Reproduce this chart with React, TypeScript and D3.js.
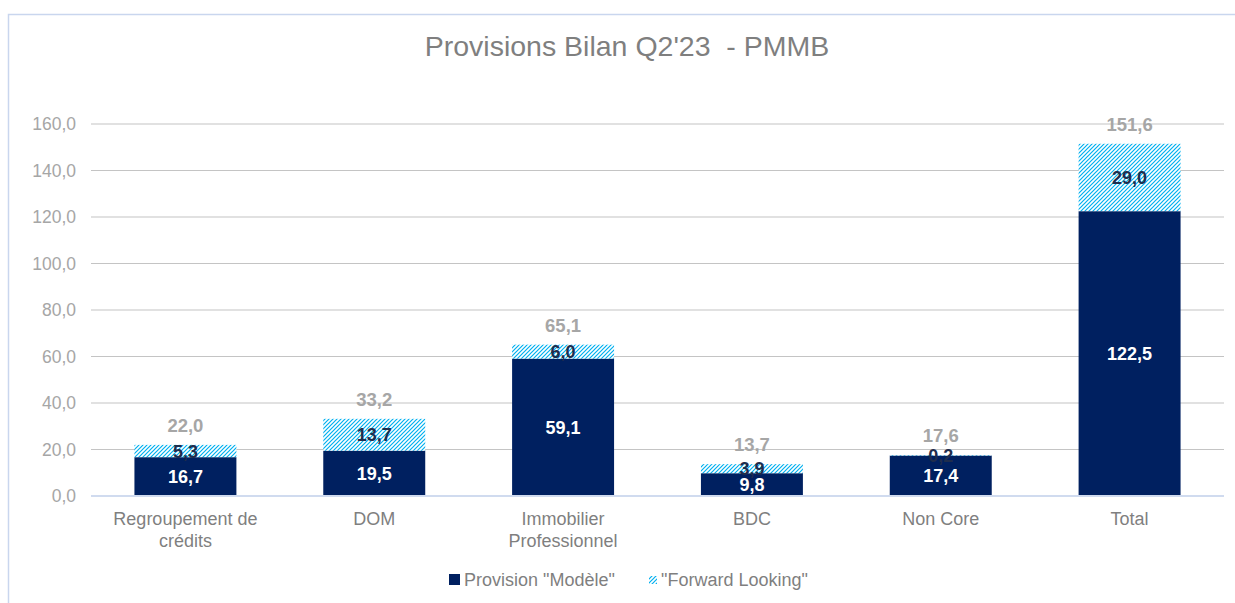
import * as d3 from 'd3';
import * as React from 'react';

const categories = ['Regroupement de crédits', 'DOM', 'Immobilier Professionnel', 'BDC', 'Non Core', 'Total'];
const categoryLines = [['Regroupement de', 'crédits'], ['DOM'], ['Immobilier', 'Professionnel'], ['BDC'], ['Non Core'], ['Total']];
const modele = [16.7, 19.5, 59.1, 9.8, 17.4, 122.5];
const forward = [5.3, 13.7, 6.0, 3.9, 0.2, 29.0];
const totals = [22.0, 33.2, 65.1, 13.7, 17.6, 151.6];
const yTicks = [0, 20, 40, 60, 80, 100, 120, 140, 160];

const W = 1235;
const H = 603;
const plot = {left: 91, right: 1224, top: 124, bottom: 496};
const navy = '#002060';
const hatchColor = '#00b0f0';
const font = 'Arial, "Liberation Sans", sans-serif';
const fmt = (v: number) => v.toFixed(1).replace('.', ',');

export default function App() {
    const x = d3.scaleBand<string>()
        .domain(categories)
        .range([plot.left, plot.right])
        .paddingInner(0.46)
        .paddingOuter(0.23);

    const y = d3.scaleLinear()
        .domain([0, 160])
        .range([plot.bottom, plot.top]);

    return (
        <svg width={W} height={H} style={{position: 'absolute', left: 0, top: 0, display: 'block'}} fontFamily={font}>
            <defs>
                <pattern id='fl' patternUnits='userSpaceOnUse' width={4} height={4}>
                    <rect width={4} height={4} fill='white' />
                    <path d='M-1,1 l2,-2 M0,4 l4,-4 M3,5 l2,-2' stroke={hatchColor} strokeWidth={1.2} />
                </pattern>
            </defs>
            <rect x={8.5} y={14.5} width={W} height={H} fill='white' stroke='#c9d6ee' strokeWidth={1.5} />
            <text x={627} y={56} textAnchor='middle' fontSize={28.5} fill='#7f7f7f' style={{whiteSpace: 'pre'}}>Provisions Bilan Q2'23  - PMMB</text>

            <g className='y-axis'>
                {yTicks.map((t) => (
                    <g key={t}>
                        {t > 0 && <line x1={plot.left} x2={plot.right} y1={y(t)} y2={y(t)} stroke='#c4c4c4' strokeWidth={1.2} />}
                        <text x={76} y={y(t) + 6} textAnchor='end' fontSize={17.5} fill='#a6a6a6'>{fmt(t)}</text>
                    </g>
                ))}
            </g>

            {categories.map((c, i) => {
                const bx = x(c)!;
                const bw = x.bandwidth();
                const yM = y(modele[i]);
                const yF = y(modele[i] + forward[i]);
                const cx = bx + bw / 2;
                return (
                    <g key={c}>
                        <rect x={bx} y={yM} width={bw} height={y(0) - yM} fill={navy} />
                        <rect x={bx} y={yF} width={bw} height={yM - yF} fill='url(#fl)' />
                        <text x={cx} y={(yM + y(0)) / 2 + 6.5} textAnchor='middle' fontSize={18} fontWeight='bold' fill='white'>{fmt(modele[i])}</text>
                        <text x={cx} y={(yF + yM) / 2 + 6.5} textAnchor='middle' fontSize={18} fontWeight='bold' fill='#1f2d4d'>{fmt(forward[i])}</text>
                        <text x={cx} y={y(totals[i]) - 13} textAnchor='middle' fontSize={18.5} fontWeight='bold' fill='#a6a6a6'>{fmt(totals[i])}</text>
                        {categoryLines[i].map((l, j) => (
                            <text key={j} x={cx} y={525 + j * 22} textAnchor='middle' fontSize={18} fill='#7f7f7f'>{l}</text>
                        ))}
                    </g>
                );
            })}

            <line x1={plot.left} x2={plot.right} y1={y(0)} y2={y(0)} stroke='#d0dbef' strokeWidth={2} />

            <g className='legend'>
                <rect x={449} y={574} width={11} height={11} fill={navy} />
                <text x={464} y={586} fontSize={18} fill='#7f7f7f'>Provision "Modèle"</text>
                <rect x={649} y={576} width={8} height={8} fill='url(#fl)' />
                <text x={661} y={586} fontSize={18} fill='#7f7f7f'>"Forward Looking"</text>
            </g>
        </svg>
    );
}
